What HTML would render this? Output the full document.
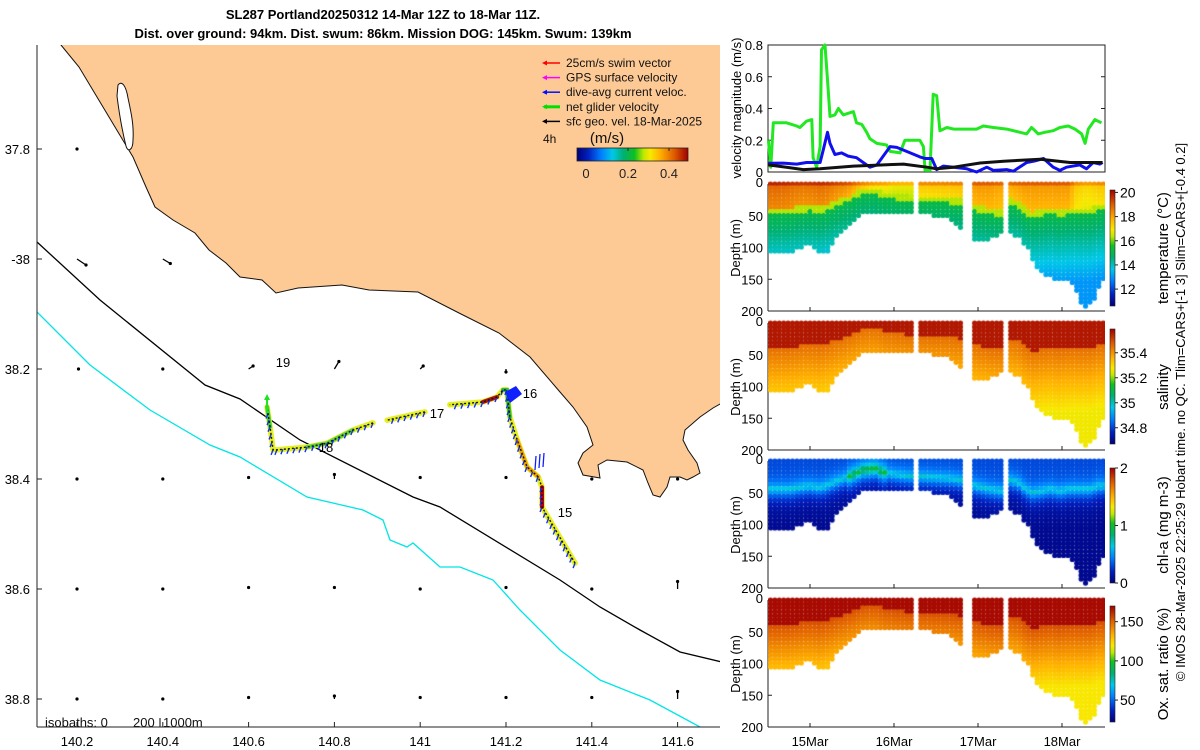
<!DOCTYPE html>
<html><head><meta charset="utf-8">
<style>
body{margin:0;background:#fff;width:1200px;height:750px;overflow:hidden;position:relative;font-family:"Liberation Sans",sans-serif;color:#222}
canvas{position:absolute}
</style></head><body>
<svg id="main" width="1200" height="750" style="position:absolute;left:0;top:0" font-family="Liberation Sans, sans-serif">
<defs><clipPath id="mapclip"><rect x="37" y="45" width="683" height="682"/></clipPath></defs>
<text x="383" y="19" text-anchor="middle" font-weight="bold" font-size="13">SL287 Portland20250312 14-Mar 12Z to 18-Mar 11Z.</text>
<text x="383" y="38" text-anchor="middle" font-weight="bold" font-size="13">Dist. over ground: 94km. Dist. swum: 86km. Mission DOG: 145km. Swum: 139km</text>
<g id="map" clip-path="url(#mapclip)"></g>
<g id="mapover"></g>
<g id="vel"></g>
<g id="axes2"></g>
<text transform="translate(1185,412) rotate(-90)" text-anchor="middle" font-size="13">© IMOS 28-Mar-2025 22:25:29 Hobart time. no QC. Tlim=CARS+[-1 3] Slim=CARS+[-0.4 0.2]</text>
</svg>
<canvas id="cT" width="337" height="135" style="left:768px;top:180px"></canvas>
<canvas id="cS" width="337" height="135" style="left:768px;top:319px"></canvas>
<canvas id="cC" width="337" height="135" style="left:768px;top:457px"></canvas>
<canvas id="cO" width="337" height="135" style="left:768px;top:596px"></canvas>
<script>
// ---------- velocity data (hours since 14-Mar 12Z, m/s) ----------
const greenT=[0.1,0.8,1.5,5.3,8.2,9.1,11.0,12.5,12.9,13.9,14.9,15.3,16.3,17.0,17.7,19.1,20.1,21.5,22.9,24.4,25.3,26.8,28.2,29.1,31.1,33.9,34.9,37.7,39.1,43.4,44.4,44.9,46.3,47.2,48.2,49.1,51.1,53.0,59.6,61.5,64.4,68.2,72.0,73.9,75.3,76.3,77.2,79.1,81.5,83.4,85.8,87.7,89.6,90.6,91.5,93.4,95.3];
const greenV=[0.20,0.03,0.31,0.31,0.29,0.28,0.32,0.33,0.09,0.03,0.16,0.77,0.80,0.58,0.35,0.36,0.40,0.36,0.37,0.38,0.31,0.30,0.25,0.21,0.18,0.17,0.13,0.12,0.20,0.20,0.16,0.01,0.01,0.49,0.48,0.26,0.28,0.27,0.27,0.29,0.28,0.27,0.25,0.24,0.28,0.26,0.24,0.25,0.26,0.28,0.29,0.27,0.24,0.18,0.27,0.33,0.31];
const blueT=[0.1,4.4,8.2,11.0,14.9,15.8,17.0,17.7,19.1,21.0,22.9,25.3,27.2,29.1,31.1,34.9,36.8,39.6,43.4,44.9,46.8,48.2,50.1,53.0,56.8,59.6,62.5,64.4,68.2,70.1,73.9,76.3,78.7,81.5,83.4,85.3,89.1,91.0,92.9,94.8,95.6];
const blueV=[0.055,0.056,0.05,0.06,0.06,0.14,0.25,0.18,0.11,0.12,0.10,0.09,0.06,0.03,0.045,0.16,0.155,0.13,0.095,0.085,0.085,0.015,0.037,0.03,0.02,0.0,0.03,0.01,0.015,0.005,0.06,0.07,0.085,0.03,0.01,0.03,0.045,0.02,0.06,0.05,0.06];
const blackT=[0.1,5.3,10.1,14.9,24.4,38.7,45.4,48.2,53.0,60.6,67.3,77.8,86.3,95.6];
const blackV=[0.045,0.03,0.015,0.02,0.037,0.05,0.03,0.02,0.03,0.057,0.068,0.08,0.06,0.06];
const velTicks=[0,0.2,0.4,0.6,0.8];
const dayLabels=["15Mar","16Mar","17Mar","18Mar"];
const dayPos=[0.5,1.5,2.5,3.5];
// ---------- section profile data (days since 14-Mar 12Z) ----------
const profT=[0.004,0.143,0.242,0.341,0.460,0.579,0.659,0.738,0.937,1.095,1.254,1.333,1.492,1.690,1.770,2.127,2.246,2.444,2.603,2.762,2.841,2.960,3.040,3.119,3.218,3.337,3.456,3.556,3.635,3.734,3.813,3.893,3.972];
const profMax=[110,110,108,100,97,108,113,92,66,45,45,50,44,45,45,56,69,89,87,76,76,84,97,118,141,149,152,152,170,196,191,170,146];
const profMld=[45,45,45,42,40,42,40,35,25,15,12,18,22,25,25,28,30,40,45,48,30,35,45,50,48,45,48,45,45,45,45,40,40];
const surfTemp=[18.9,18.9,18.8,18.7,18.7,18.8,18.8,18.6,18.3,17.6,17.2,17.2,16.9,16.9,17.5,17.6,17.6,18.2,18.2,18.0,17.9,18.1,18.2,18.2,18.2,18.2,18.2,18.2,17.5,17.3,17.3,17.5,17.5];
const segStart=[0.0,1.79,2.43,2.86];
const segEnd=[1.70,2.27,2.75,3.99];
const depthTicks=[0,50,100,150,200];
// ---------- map data ----------
const trackLon=[141.361,141.284,141.284,141.275,141.249,141.226,141.209,141.202,141.193,141.179,141.146,141.069,141.011,140.923,140.890,140.843,140.783,140.736,140.666,140.657,140.650,140.643];
const trackLat=[38.553,38.451,38.415,38.396,38.378,38.329,38.287,38.238,38.238,38.251,38.260,38.265,38.278,38.293,38.298,38.311,38.335,38.342,38.347,38.347,38.305,38.269];
const trackGap=[11,13];
const lonTicks=[140.2,140.4,140.6,140.8,141,141.2,141.4,141.6];
const latTicks=[37.8,38,38.2,38.4,38.6,38.8];
const latLabels=["37.8","-38","38.2","38.4","38.6","38.8"];
const gridLon=[140.2,140.2,140.4,140.2,140.4,140.6,140.8,141.0,141.2,140.2,140.4,140.6,140.8,141.0,141.2,141.4,141.6,140.2,140.4,140.6,140.8,141.0,141.2,141.4,141.6,140.2,140.4,140.6,140.8,141.0,141.2,141.4,141.6];
const gridLat=[37.8,38,38,38.2,38.2,38.2,38.2,38.2,38.2,38.4,38.4,38.4,38.4,38.4,38.4,38.4,38.4,38.6,38.6,38.6,38.6,38.6,38.6,38.6,38.6,38.8,38.8,38.8,38.8,38.8,38.8,38.8,38.8];
const gridU=[0,0.06,0.05,0.01,0,0.03,0.03,0.02,0,0,0,0,0,0,0,0,0,0,0,0,0,0,0,0,0,0,0,0,0,0,0,0,0];
const gridV=[0,-0.04,-0.03,0,0,0.02,0.05,0.02,-0.02,0,0,0.01,0.03,0.01,0.01,0,0,0,0,0.01,0.01,0,0.01,0,0.05,0,0,0.01,0.02,0.01,0.01,0.01,0.05];

const NS="http://www.w3.org/2000/svg";
function el(parent,tag,attrs,text){const e=document.createElementNS(NS,tag);for(const k in attrs)e.setAttribute(k,attrs[k]);if(text!==undefined)e.textContent=text;parent.appendChild(e);return e;}
const lonX=lon=>77+(lon-140.2)/0.2*85.8;
const latY=lat=>149+(lat-37.8)/0.2*110;

// ---------- MAP ----------
const map=document.getElementById('map');
el(map,'rect',{x:37,y:45,width:683,height:682,fill:'#fff'});
const coast=[[61,45],[79,67],[97,97],[115,127],[133,157],[146,187],[155,207],[173,220],[195,233],[209,250],[226,263],[240,277],[262,280],[276,293],[298,288],[342,285],[369,290],[418,292],[459,313],[499,333],[530,357],[560,392],[573,407],[587,427],[593,445],[583,453],[578,463],[583,475],[600,478],[598,465],[607,460],[627,462],[643,470],[648,483],[653,495],[660,497],[667,487],[670,477],[680,477],[687,480],[693,477],[700,473],[697,463],[688,450],[683,440],[685,430],[700,417],[713,408],[722,403],[722,43],[61,43]];
let land=el(map,'polygon',{points:coast.map(p=>p.join(',')).join(' '),fill:'#fdca96',stroke:'#111','stroke-width':1});

let lake=el(map,'path',{d:'M118,85 C122,80 126,86 128,98 C131,112 134,125 133,140 C133,150 128,153 126,146 C122,130 119,112 117,96 Z',fill:'#fff',stroke:'#111','stroke-width':1});

let iso200=el(map,'polyline',{points:'37,242 100,300 205,385 240,399 300,440 413,497 440,507 560,580 600,607 640,630 680,652 722,662',fill:'none',stroke:'#000','stroke-width':1.3});

let iso1000=el(map,'polyline',{points:'37,312 90,365 150,410 210,445 240,457 307,497 363,510 383,520 390,540 407,547 413,543 440,567 460,567 493,580 520,610 560,650 600,680 650,700 700,727',fill:'none',stroke:'#00e5e5','stroke-width':1.3});

for(let i=0;i<gridLon.length;i++){
  const x=lonX(gridLon[i]),y=latY(gridLat[i]),dx=gridU[i]*150,dy=-gridV[i]*150;
  const g=el(map,'g',{});
  
  
  el(g,'line',{x1:x,y1:y,x2:x+dx,y2:y+dy,stroke:'#000','stroke-width':1.3});
  el(g,'circle',{cx:x+dx,cy:y+dy,r:1.6,fill:'#000'});
}
function trackSegs(){const segs=[];let cur=[];for(let i=0;i<trackLon.length;i++){cur.push([lonX(trackLon[i]),latY(trackLat[i])]);if(trackGap.includes(i)){segs.push(cur);cur=[];}}segs.push(cur);return segs;}
const segsP=trackSegs();
segsP.forEach(s=>{
  const pts=s.map(p=>p.join(',')).join(' ');
  let y=el(map,'polyline',{points:pts,fill:'none',stroke:'#e6f020','stroke-width':5.5,'stroke-linecap':'round','stroke-linejoin':'round'});
  
});
[[3,5,'#f0a000'],[1,2,'#c00000'],[9,10,'#b01010'],[15,17,'#60d040'],[20,21,'#40d040'],[6,8,'#30c030']].forEach(r=>{
  const pts=[];for(let i=r[0];i<=r[1];i++)pts.push(lonX(trackLon[i])+','+latY(trackLat[i]));
  el(map,'polyline',{points:pts.join(' '),fill:'none',stroke:r[2],'stroke-width':4,'stroke-linecap':'round'});
});
// blue dive-avg arrows along track (sub-sampled along each leg)
segsP.forEach(s=>{for(let i=0;i<s.length-1;i++){const a=s[i],b=s[i+1];const L=Math.hypot(b[0]-a[0],b[1]-a[1]);const n=Math.max(1,Math.floor(L/6));
  for(let j=0;j<n;j++){const x=a[0]+(b[0]-a[0])*j/n,y=a[1]+(b[1]-a[1])*j/n;
    const ar=el(map,'line',{x1:x,y1:y,x2:x-2,y2:y+5,stroke:'#1030ff','stroke-width':1.4});
    }}});
segsP.forEach(s=>{el(map,'polyline',{points:s.map(p=>p.join(',')).join(' '),fill:'none',stroke:'#111','stroke-width':1.4,'stroke-dasharray':'2 2'});});
el(map,'polygon',{points:'505,392 516,386 522,394 510,403',fill:'#1020ff'});
[[535,470],[539,468],[543,467]].forEach(p=>el(map,'line',{x1:p[0],y1:p[1],x2:p[0]+1,y2:p[1]-14,stroke:'#1020ff','stroke-width':1.3}));
el(map,'line',{x1:lonX(trackLon[21]),y1:latY(trackLat[21])+5,x2:lonX(trackLon[21]),y2:latY(trackLat[21])-9,stroke:'#20e020','stroke-width':2});
el(map,'polygon',{points:`${lonX(trackLon[21])-3},${latY(trackLat[21])-7} ${lonX(trackLon[21])+3},${latY(trackLat[21])-7} ${lonX(trackLon[21])},${latY(trackLat[21])-13}`,fill:'#20e020'});
[["19",283,367],["18",326,452],["17",437,418],["16",530,398],["15",565,517]].forEach(d=>{
  const t=el(map,'text',{x:d[1],y:d[2],'text-anchor':'middle','font-size':13,fill:'#000'},d[0]);
  
});
const leg=[["25cm/s swim vector","#ff0000"],["GPS surface velocity","#ff00ff"],["dive-avg current veloc.","#0010ff"],["net glider velocity","#00e000"],["sfc geo. vel. 18-Mar-2025","#000"]];
leg.forEach((l,i)=>{const y=63+i*14.6;
  const g=el(map,'g',{});
  el(g,'line',{x1:544,y1:y,x2:560,y2:y,stroke:l[1],'stroke-width':i==3?3:1.5});
  el(g,'polygon',{points:`542,${y} 547,${y-2.5} 547,${y+2.5}`,fill:l[1]});
  el(g,'text',{x:566,y:y+4,'font-size':12,fill:'#111'},l[0]);
});
el(map,'text',{x:543,y:143,'font-size':12,fill:'#111'},'4h');
el(map,'text',{x:607,y:143,'font-size':15,'text-anchor':'middle',fill:'#111'},'(m/s)');
const cbg=el(map,'defs',{});
const STOPS=[[0,'#00007a'],[0.1,'#0020c0'],[0.22,'#0080ff'],[0.32,'#00c8e8'],[0.42,'#00b070'],[0.52,'#10c020'],[0.6,'#c0e800'],[0.66,'#f8e800'],[0.75,'#ffb000'],[0.87,'#e06000'],[1,'#a00000']];
const lgh=el(cbg,'linearGradient',{id:'gh',x1:0,y1:0,x2:1,y2:0});STOPS.forEach(s=>el(lgh,'stop',{offset:s[0],'stop-color':s[1]}));
let vb=el(map,'rect',{x:577,y:148,width:111,height:13,fill:'url(#gh)',stroke:'#222','stroke-width':0.8});

[["0",586],["0.2",628],["0.4",669]].forEach(t=>{el(map,'line',{x1:t[1],y1:148,x2:t[1],y2:151,stroke:'#222'});el(map,'text',{x:t[1],y:178,'font-size':13,'text-anchor':'middle',fill:'#222'},t[0]);});
el(map,'text',{x:45,y:727,'font-size':13,fill:'#111'},'isobaths: 0');
el(map,'text',{x:133,y:727,'font-size':13,fill:'#111'},'200');
el(map,'line',{x1:160,y1:718,x2:160,y2:727,stroke:'#000'});
el(map,'text',{x:163,y:727,'font-size':13,fill:'#111'},'1000m');
const mo=document.getElementById('mapover');
el(mo,'line',{x1:37,y1:45,x2:37,y2:727,stroke:'#222'});
el(mo,'line',{x1:37,y1:727,x2:720,y2:727,stroke:'#222'});
lonTicks.forEach(l=>{const x=lonX(l);el(mo,'line',{x1:x,y1:727,x2:x,y2:722,stroke:'#222'});
  const t=el(mo,'text',{x:x,y:746,'text-anchor':'middle','font-size':13},String(l));});
latTicks.forEach((l,i)=>{const y=latY(l);el(mo,'line',{x1:37,y1:y,x2:42,y2:y,stroke:'#222'});
  const t=el(mo,'text',{x:30,y:y+5,'text-anchor':'end','font-size':13},latLabels[i]);});

// ---------- VELOCITY PANEL ----------
const vel=document.getElementById('vel');
const tX=h=>768+h/24*84;
const vY=v=>172-v/0.8*127;
el(vel,'rect',{x:768,y:45,width:337,height:127,fill:'#fff',stroke:'#222'});
velTicks.forEach(v=>{const y=vY(v);el(vel,'line',{x1:768,y1:y,x2:772,y2:y,stroke:'#222'});el(vel,'line',{x1:1105,y1:y,x2:1101,y2:y,stroke:'#222'});
  const t=el(vel,'text',{x:763,y:y+5,'text-anchor':'end','font-size':13},String(v));});
function vline(T,V,c,name){const p=T.map((t,i)=>tX(t).toFixed(1)+','+vY(V[i]).toFixed(1)).join(' ');const l=el(vel,'polyline',{points:p,fill:'none',stroke:c,'stroke-width':3,'stroke-linejoin':'round'});}
vline(greenT,greenV,'#22e822','net-glider-speed-line');
vline(blueT,blueV,'#1010ee','dive-avg-current-line');
vline(blackT,blackV,'#111','geostrophic-speed-line');
el(vel,'text',{transform:'translate(741,108) rotate(-90)','text-anchor':'middle','font-size':13},'velocity magnitude (m/s)');

// ---------- SECTIONS ----------
const ax2=document.getElementById('axes2');
const panels=[
 {id:'cT',top:184,label:'temperature (°C)',min:10.6,max:20.2,ticks:[12,14,16,18,20],cb:[190,306]},
 {id:'cS',top:323,label:'salinity',min:34.67,max:35.59,ticks:[34.8,35,35.2,35.4],cb:[329,444]},
 {id:'cC',top:461,label:'chl-a (mg m-3)',min:0,max:2,ticks:[0,1,2],cb:[468,583]},
 {id:'cO',top:600,label:'Ox. sat. ratio (%)',min:22,max:170,ticks:[50,100,150],cb:[606,722]}];
const grad2=el(ax2,'defs',{});const lg2=el(grad2,'linearGradient',{id:'gv',x1:0,y1:1,x2:0,y2:0});STOPS.forEach(s=>el(lg2,'stop',{offset:s[0],'stop-color':s[1]}));
panels.forEach(p=>{
  el(ax2,'line',{x1:768,y1:p.top,x2:768,y2:p.top+127,stroke:'#222'});
  el(ax2,'line',{x1:768,y1:p.top+127,x2:1105,y2:p.top+127,stroke:'#222'});
  depthTicks.forEach(d=>{const y=p.top+d/200*127;el(ax2,'line',{x1:768,y1:y,x2:772,y2:y,stroke:'#222'});
    const t=el(ax2,'text',{x:763,y:y+(d==0?3:5),'text-anchor':'end','font-size':13},String(d));});
  dayPos.forEach(d=>{const x=768+d*84;el(ax2,'line',{x1:x,y1:p.top+127,x2:x,y2:p.top+123,stroke:'#222'});});
  el(ax2,'text',{transform:`translate(740,${p.top+64}) rotate(-90)`,'text-anchor':'middle','font-size':13},'Depth (m)');
  const cb=el(ax2,'rect',{x:1110,y:p.cb[0],width:5,height:p.cb[1]-p.cb[0],fill:'url(#gv)',stroke:'#222','stroke-width':0.6});
  
  p.ticks.forEach(v=>{const y=p.cb[1]-(v-p.min)/(p.max-p.min)*(p.cb[1]-p.cb[0]);el(ax2,'line',{x1:1115,y1:y,x2:1118,y2:y,stroke:'#222'});
    el(ax2,'text',{x:1120,y:y+5,'font-size':14},String(v));});
  const lab=el(ax2,'text',{transform:`translate(1168,${p.top+64}) rotate(-90)`,'text-anchor':'middle','font-size':15},p.label);
  
});
dayLabels.forEach((d,i)=>{const t=el(ax2,'text',{x:768+dayPos[i]*84,y:746,'text-anchor':'middle','font-size':13},d);});

function hex(c){return [parseInt(c.substr(1,2),16),parseInt(c.substr(3,2),16),parseInt(c.substr(5,2),16)];}
function cmap(f){f=Math.max(0,Math.min(1,f));for(let i=1;i<STOPS.length;i++){if(f<=STOPS[i][0]){const a=hex(STOPS[i-1][1]),b=hex(STOPS[i][1]),u=(f-STOPS[i-1][0])/(STOPS[i][0]-STOPS[i-1][0]);return `rgb(${a.map((v,k)=>Math.round(v+(b[k]-v)*u)).join(',')})`;}}return STOPS[STOPS.length-1][1];}
function interp(t,arr){if(t<=profT[0])return arr[0];for(let i=1;i<profT.length;i++)if(t<=profT[i]){const u=(t-profT[i-1])/(profT[i]-profT[i-1]);return arr[i-1]+(arr[i]-arr[i-1])*u;}return arr[arr.length-1];}
function val(k,d,t){
  const mld=interp(t,profMld),st=interp(t,surfTemp);
  if(k==0){if(d<3)return st+0.8;if(d<mld-6)return st-(d/mld)*0.6;if(d<mld+3)return 16.3;return Math.max(13.0,15.2-(d-mld)*0.02);}
  if(k==1){if(d<mld-5)return 35.56;return Math.max(35.27,35.44-(d-mld)*0.0018);}
  if(k==2){const pk=(t>0.9&&t<1.4)?1.0:0.7;const dd=Math.abs(d-mld);if(d<mld)return 0.3+(pk-0.3)*Math.exp(-dd/10);return 0.06+(pk-0.06)*Math.exp(-dd/14);}
  if(k==3){if(d<mld-5)return 168;return Math.max(120,152-(d-mld)*0.35);}
}
panels.forEach((p,k)=>{
  const c=document.getElementById(p.id).getContext('2d');
  const top=4;
  for(let s=0;s<segStart.length;s++){
    for(let t=segStart[s];t<=segEnd[s];t+=4.4/84){
      const x=t*84+2.5,maxd=interp(t,profMax);
      for(let d=0;d<=maxd;d+=6.2){
        const v=val(k,d,t);c.fillStyle=cmap((v-p.min)/(p.max-p.min));
        c.beginPath();c.arc(x,top+d/200*127,2.6,0,6.283);c.fill();
      }
    }
  }
});
</script>
</body></html>
